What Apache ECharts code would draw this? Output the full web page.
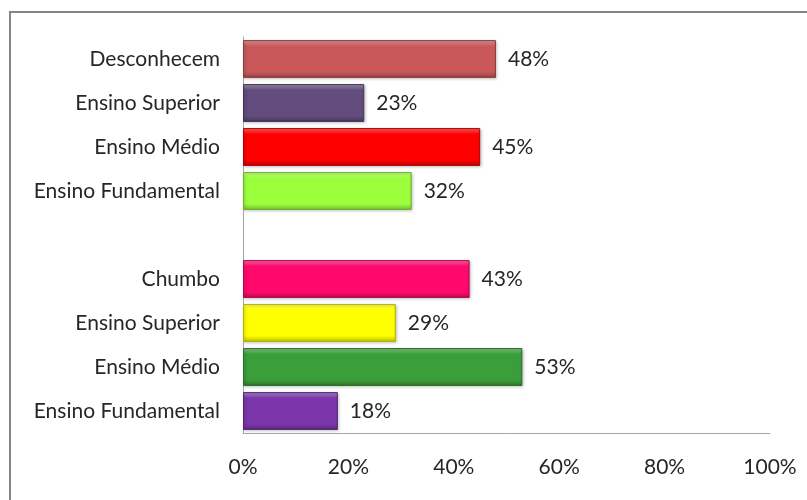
<!DOCTYPE html>
<html>
<head>
<meta charset="utf-8">
<script src="https://cdn.jsdelivr.net/npm/echarts@6/dist/echarts.min.js"></script>
<style>
html,body{margin:0;padding:0;background:#fff;}
#chart{width:807px;height:500px;}
</style>
</head>
<body>
<div id="chart"></div>
<script>
var categories = ['Desconhecem','Ensino Superior','Ensino Médio','Ensino Fundamental','','Chumbo','Ensino Superior','Ensino Médio','Ensino Fundamental'];
var values = [48, 23, 45, 32, null, 43, 29, 53, 18];
var barColors = ['#C9585A','#634C7E','#FF0000','#9CFF3C','#ffffff','#FF0A6C','#FFFF00','#3A9E3A','#7A36AA'];
var xTicks = [0, 20, 40, 60, 80, 100];

function shade(hex, amt) {
  var n = parseInt(hex.slice(1), 16);
  var r = (n >> 16) & 255, g = (n >> 8) & 255, b = n & 255;
  function f(c) {
    if (amt >= 0) return Math.round(c + (255 - c) * amt);
    return Math.round(c * (1 + amt));
  }
  return 'rgb(' + f(r) + ',' + f(g) + ',' + f(b) + ')';
}

var font = 'Lato, "Open Sans", sans-serif';
var chart = echarts.init(document.getElementById('chart'));
var seriesData = values.map(function (v, i) {
  if (v === null) return {value: null};
  var c = barColors[i];
  return {
    value: v,
    itemStyle: {
      color: {
        type: 'linear', x: 0, y: 0, x2: 0, y2: 1,
        colorStops: [
          {offset: 0, color: shade(c, 0.4)},
          {offset: 0.16, color: c},
          {offset: 0.84, color: c},
          {offset: 1, color: shade(c, -0.25)}
        ]
      },
      borderColor: shade(c, -0.3),
      borderWidth: 1,
      shadowColor: 'rgba(0,0,0,0.3)',
      shadowBlur: 3,
      shadowOffsetX: 1,
      shadowOffsetY: 1
    }
  };
});

chart.setOption({
  animation: false,
  backgroundColor: '#fff',
  graphic: [{
    type: 'rect',
    shape: {x: 10, y: 12, width: 900, height: 600},
    style: {fill: 'none', stroke: '#868686', lineWidth: 2},
    silent: true
  }],
  grid: {left: 243, right: 37, top: 37, bottom: 67, containLabel: false},
  xAxis: {
    type: 'value',
    min: xTicks[0],
    max: xTicks[xTicks.length - 1],
    interval: 20,
    axisLine: {show: true, lineStyle: {color: '#A6A6A6', width: 1}},
    axisTick: {show: false},
    splitLine: {show: false},
    axisLabel: {
      margin: 24,
      color: '#262626',
      fontFamily: font,
      fontSize: 21,
      formatter: function (v) { return v + '%'; }
    }
  },
  yAxis: {
    type: 'category',
    inverse: true,
    data: categories,
    axisLine: {show: true, lineStyle: {color: '#A6A6A6', width: 1}},
    axisTick: {show: false},
    axisLabel: {
      margin: 23,
      color: '#262626',
      fontFamily: font,
      fontSize: 21
    }
  },
  series: [{
    type: 'bar',
    data: seriesData,
    barCategoryGap: '14%',
    label: {
      show: true,
      position: 'right',
      distance: 12,
      color: '#262626',
      fontFamily: font,
      fontSize: 21,
      formatter: function (p) { return p.value == null ? '' : p.value + '%'; }
    }
  }]
});
</script>
</body>
</html>
